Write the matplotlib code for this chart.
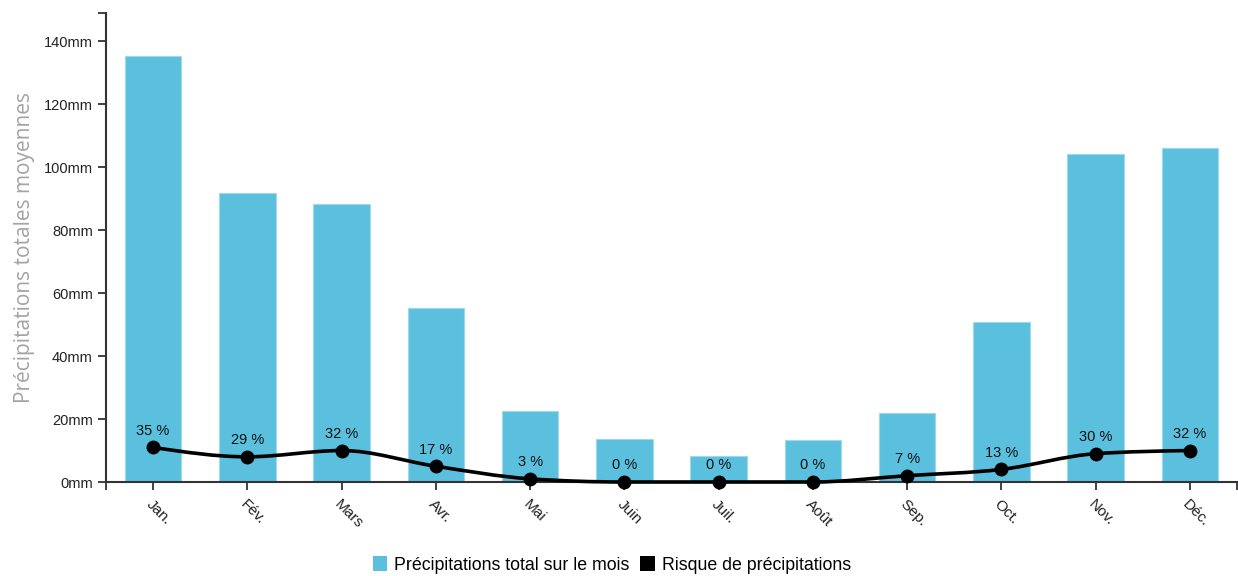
import matplotlib
matplotlib.use("Agg")
import matplotlib.pyplot as plt
from matplotlib.path import Path
from matplotlib.patches import PathPatch
from matplotlib.patches import Patch
import numpy as np

plt.rcParams['font.family'] = ['Liberation Sans', 'DejaVu Sans']

months = ["Jan.", "Fév.", "Mars", "Avr.", "Mai", "Juin", "Juil.", "Août",
          "Sep.", "Oct.", "Nov.", "Déc."]
precip_mm = [135.3, 91.7, 88.2, 55.3, 22.6, 13.8, 8.4, 13.5, 22.0, 50.8, 104.3, 106.2]
rain_days = [11, 8, 10, 5, 1, 0, 0, 0, 2, 4, 9, 10]
risk_pct = [35, 29, 32, 17, 3, 0, 0, 0, 7, 13, 30, 32]
y_ticks = [0, 20, 40, 60, 80, 100, 120, 140]

bar_color = '#5bc0de'
dark = '#333333'


def monotone_path(xs, ys):
    # cubic bezier segments like d3.curveMonotoneX
    xs = np.asarray(xs, float)
    ys = np.asarray(ys, float)
    n = len(xs)
    h = np.diff(xs)
    s = np.diff(ys) / h
    t = np.zeros(n)
    for i in range(1, n - 1):
        p = (s[i - 1] * h[i] + s[i] * h[i - 1]) / (h[i - 1] + h[i])
        t[i] = (np.sign(s[i - 1]) + np.sign(s[i])) * min(abs(s[i - 1]), abs(s[i]), 0.5 * abs(p))
    t[0] = (3 * s[0] - t[1]) / 2
    t[-1] = (3 * s[-1] - t[-2]) / 2
    verts = [(xs[0], ys[0])]
    codes = [Path.MOVETO]
    for i in range(n - 1):
        d = h[i] / 3
        verts += [(xs[i] + d, ys[i] + d * t[i]),
                  (xs[i + 1] - d, ys[i + 1] - d * t[i + 1]),
                  (xs[i + 1], ys[i + 1])]
        codes += [Path.CURVE4] * 3
    return Path(verts, codes)


fig = plt.figure(figsize=(12.38, 5.76), dpi=100)
ax = fig.add_axes([106 / 1238, 1 - 482 / 576, 1131 / 1238, 469 / 576])

x = np.arange(len(months))
ax.bar(x, precip_mm, width=0.6, color=bar_color, edgecolor='#9fd8ea', linewidth=0.8, zorder=2)

ax.add_patch(PathPatch(monotone_path(x, rain_days), facecolor='none', edgecolor='black',
                       linewidth=2.6, zorder=3, clip_on=False))
ax.plot(x, rain_days, linestyle='none', marker='o', color='black', markersize=9, zorder=4,
        clip_on=False)
for xi, yi, p in zip(x, rain_days, risk_pct):
    ax.annotate(f"{p} %", (xi, yi), xytext=(0, 7), textcoords='offset points',
                ha='center', va='bottom', fontsize=10.5, color='#111111', zorder=5)

ax.set_xlim(-0.5, 11.5)
ax.set_ylim(0, 149)

ax.set_yticks(y_ticks)
ax.set_yticklabels([f"{v}mm" for v in y_ticks])
ax.set_yticks([149], minor=True)
ax.set_xticks(x)
ax.set_xticklabels(months, rotation=-45, ha='left', va='top', rotation_mode='anchor',
                   fontsize=11)
ax.set_xticks([-0.5, 11.5], minor=True)

for side in ['top', 'right']:
    ax.spines[side].set_visible(False)
for side in ['left', 'bottom']:
    ax.spines[side].set_color(dark)
    ax.spines[side].set_linewidth(1.5)
ax.tick_params(axis='both', which='both', colors=dark, width=1.3, length=6,
               labelsize=10.5, labelcolor='#222222')
ax.tick_params(axis='x', which='major', pad=5, labelsize=11)

ax.set_ylabel("Précipitations totales moyennes", fontsize=15, color='#a3a3a3',
              family=['Open Sans', 'DejaVu Sans'], labelpad=6)

handles = [Patch(facecolor=bar_color, edgecolor='none'),
           Patch(facecolor='black', edgecolor='none')]
fig.legend(handles, ["Précipitations total sur le mois", "Risque de précipitations"],
           loc='center', bbox_to_anchor=(612 / 1238, 1 - 565 / 576), ncol=2, frameon=False,
           fontsize=12.8, handlelength=0.8, handleheight=0.9, handletextpad=0.4,
           columnspacing=0.6)

fig.savefig("out.png", dpi=100)
